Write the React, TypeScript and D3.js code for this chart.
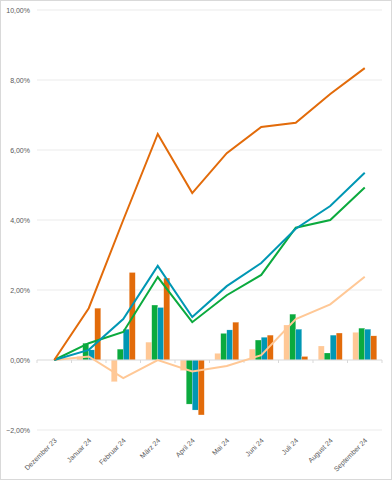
import React, { useEffect, useRef } from 'react';
import * as d3 from 'd3';

// Monate (Kategorien)
const months = [
  'Dezember 23', 'Januar 24', 'Februar 24', 'März 24', 'April 24',
  'Mai 24', 'Juni 24', 'Juli 24', 'August 24', 'September 24',
];

// Monatliche Veränderung (Balken), in %
const barPeach = [0, 0.1, -0.62, 0.51, -0.3, 0.19, 0.31, 1.0, 0.4, 0.79];
const barGreen = [0, 0.48, 0.31, 1.57, -1.26, 0.76, 0.57, 1.31, 0.2, 0.91];
const barTeal = [0, 0.29, 0.88, 1.5, -1.43, 0.86, 0.65, 0.88, 0.71, 0.88];
const barOrange = [0, 1.48, 2.5, 2.34, -1.57, 1.08, 0.71, 0.1, 0.77, 0.69];

// Kumulierte Entwicklung (Linien), in %
const linePeach = [0, 0.1, -0.52, 0.0, -0.33, -0.17, 0.14, 1.17, 1.59, 2.38];
const lineGreen = [0, 0.48, 0.8, 2.37, 1.08, 1.85, 2.43, 3.78, 4.0, 4.93];
const lineTeal = [0, 0.29, 1.17, 2.69, 1.23, 2.11, 2.77, 3.75, 4.4, 5.35];
const lineOrange = [0, 1.48, 4.0, 6.46, 4.77, 5.91, 6.66, 6.78, 7.6, 8.34];

const yTicks = [-2, 0, 2, 4, 6, 8, 10];

const colors = ['#FFC896', '#0BAA3E', '#0097B4', '#E26B0A'];

const App: React.FC = () => {
  const svgRef = useRef<SVGSVGElement | null>(null);

  useEffect(() => {
    if (!svgRef.current) return;
    const svg = d3.select(svgRef.current);
    svg.selectAll('*').remove();

    const width = 392;
    const height = 480;
    const font = '"Liberation Sans", Arial, sans-serif';

    // Rahmen
    svg
      .append('rect')
      .attr('x', 0.5)
      .attr('y', 0.5)
      .attr('width', width - 1)
      .attr('height', height - 1)
      .attr('fill', '#fff')
      .attr('stroke', '#d9d9d9');

    const x = d3.scaleBand().domain(months).range([37, 382]);
    const y = d3.scaleLinear().domain([-2, 10]).range([430, 10]);

    // Gitterlinien
    svg
      .append('g')
      .selectAll('line')
      .data(yTicks.filter((t) => t !== 0))
      .enter()
      .append('line')
      .attr('x1', 37)
      .attr('x2', 382)
      .attr('y1', (d) => y(d))
      .attr('y2', (d) => y(d))
      .attr('stroke', '#ebebeb')
      .attr('stroke-width', 1.2);

    // Y-Achse
    svg
      .append('g')
      .selectAll('text')
      .data(yTicks)
      .enter()
      .append('text')
      .attr('x', 30)
      .attr('y', (d) => y(d) + 2.5)
      .attr('text-anchor', 'end')
      .attr('font-family', font)
      .attr('font-size', '7px')
      .attr('fill', '#595959')
      .text((d) => d3.format('.2f')(d).replace('.', ',') + '%');

    // Balken
    const barSeries = [barPeach, barGreen, barTeal, barOrange];
    const inner = d3
      .scaleBand<number>()
      .domain([0, 1, 2, 3])
      .range([0, 24]);
    const offset = (x.bandwidth() - 24) / 2;

    barSeries.forEach((vals, si) => {
      svg
        .append('g')
        .selectAll('rect')
        .data(vals.map((v, i) => ({ m: months[i], v })))
        .enter()
        .append('rect')
        .attr('x', (d) => x(d.m)! + offset + inner(si)!)
        .attr('y', (d) => y(Math.max(0, d.v)))
        .attr('width', inner.bandwidth())
        .attr('height', (d) => Math.abs(y(d.v) - y(0)))
        .attr('fill', colors[si])
        .attr('stroke', '#ffffff')
        .attr('stroke-opacity', 0.5)
        .attr('stroke-width', 0.4);
    });

    // Nulllinie mit Teilstrichen
    const axis = svg.append('g');
    axis
      .append('line')
      .attr('x1', 37)
      .attr('x2', 382)
      .attr('y1', y(0))
      .attr('y2', y(0))
      .attr('stroke', '#d9d9d9')
      .attr('stroke-width', 1);
    axis
      .selectAll('line.tick')
      .data(months.concat(['end']))
      .enter()
      .append('line')
      .attr('class', 'tick')
      .attr('x1', (d, i) => 37 + i * x.step())
      .attr('x2', (d, i) => 37 + i * x.step())
      .attr('y1', y(0))
      .attr('y2', y(0) + 3)
      .attr('stroke', '#d9d9d9');

    // Linien
    const lineSeries = [linePeach, lineGreen, lineTeal, lineOrange];
    const line = d3
      .line<number>()
      .x((d, i) => x(months[i])! + x.bandwidth() / 2)
      .y((d) => y(d));
    lineSeries.forEach((vals, si) => {
      svg
        .append('path')
        .attr('d', line(vals)!)
        .attr('fill', 'none')
        .attr('stroke', colors[si])
        .attr('stroke-width', 2)
        .attr('stroke-linejoin', 'miter');
    });

    // X-Achsenbeschriftung
    svg
      .append('g')
      .selectAll('text')
      .data(months)
      .enter()
      .append('text')
      .attr(
        'transform',
        (d) => `translate(${x(d)! + x.bandwidth() / 2 + 3},441) rotate(-45)`
      )
      .attr('text-anchor', 'end')
      .attr('font-family', font)
      .attr('font-size', '7px')
      .attr('fill', '#595959')
      .text((d) => d);
  }, []);

  return (
    <svg
      ref={svgRef}
      width={392}
      height={480}
      style={{ position: 'absolute', left: 0, top: 0 }}
    />
  );
};

export default App;
